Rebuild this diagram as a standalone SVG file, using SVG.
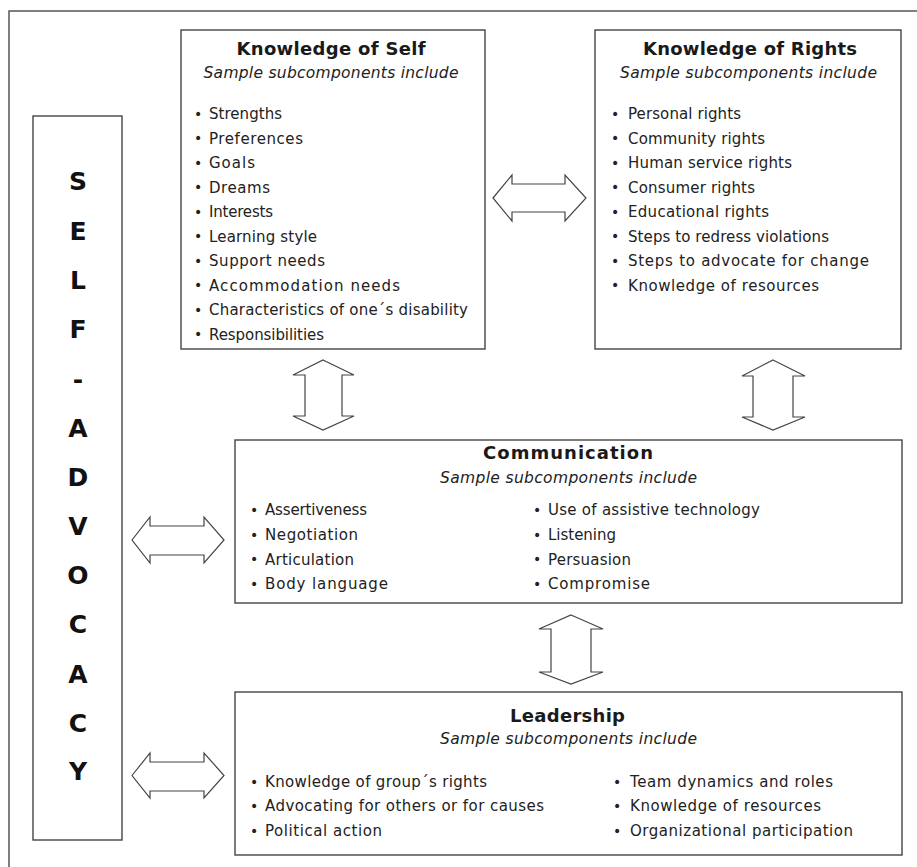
<svg xmlns="http://www.w3.org/2000/svg" width="917" height="867" viewBox="0 0 917 867">
<style>
.frame{fill:none;stroke:#555;stroke-width:1.5}
.box{fill:#fff;stroke:#444;stroke-width:1.4}
.arr{fill:#fff;stroke:#444;stroke-width:1.2;stroke-linejoin:miter}
.t{font-family:"DejaVu Sans",sans-serif;font-weight:bold;font-size:18px;fill:#1a1a1a;text-anchor:middle}
.s{font-family:"DejaVu Sans",sans-serif;font-style:italic;font-size:15.5px;fill:#222;text-anchor:middle}
.i{font-family:"DejaVu Sans",sans-serif;font-size:15px;fill:#222}
.b{font-family:"DejaVu Sans",sans-serif;font-size:14px;fill:#222}
.L{font-family:"DejaVu Sans",sans-serif;font-weight:bold;font-size:25px;fill:#111;text-anchor:middle}
</style>
<rect x="0" y="0" width="917" height="867" fill="#fff"/>
<rect class="frame" x="9" y="11" width="930" height="880"/>

<g id="self-advocacy">
<rect class="box" x="33" y="116" width="89" height="724"/>
<text class="L" x="78" y="190">S</text>
<text class="L" x="78" y="240">E</text>
<text class="L" x="78" y="289">L</text>
<text class="L" x="78" y="338">F</text>
<text class="L" x="78" y="388">-</text>
<text class="L" x="78" y="437">A</text>
<text class="L" x="78" y="486">D</text>
<text class="L" x="78" y="535">V</text>
<text class="L" x="78" y="584">O</text>
<text class="L" x="78" y="633">C</text>
<text class="L" x="78" y="683">A</text>
<text class="L" x="78" y="732">C</text>
<text class="L" x="78" y="780">Y</text>
</g>

<g id="knowledge-of-self">
<rect class="box" x="181" y="30" width="304" height="319"/>
<text class="t" x="331" y="55" textLength="189">Knowledge of Self</text>
<text class="s" x="331" y="78" textLength="255">Sample subcomponents include</text>
<g class="b">
<text x="194" y="118.5">•</text><text x="194" y="143">•</text><text x="194" y="167.5">•</text><text x="194" y="192">•</text><text x="194" y="216.5">•</text><text x="194" y="241">•</text><text x="194" y="265.5">•</text><text x="194" y="290">•</text><text x="194" y="314.5">•</text><text x="194" y="339">•</text>
</g>
<text class="i" x="209" y="119" textLength="73">Strengths</text>
<text class="i" x="209" y="143.5" textLength="94">Preferences</text>
<text class="i" x="209" y="168" textLength="46">Goals</text>
<text class="i" x="209" y="192.5" textLength="61">Dreams</text>
<text class="i" x="209" y="217" textLength="64">Interests</text>
<text class="i" x="209" y="241.5" textLength="108">Learning style</text>
<text class="i" x="209" y="266" textLength="116">Support needs</text>
<text class="i" x="209" y="290.5" textLength="191">Accommodation needs</text>
<text class="i" x="209" y="315" textLength="259">Characteristics of one´s disability</text>
<text class="i" x="209" y="339.5" textLength="115">Responsibilities</text>
</g>

<g id="knowledge-of-rights">
<rect class="box" x="595" y="30" width="306" height="319"/>
<text class="t" x="750" y="55" textLength="214">Knowledge of Rights</text>
<text class="s" x="748.5" y="78" textLength="257">Sample subcomponents include</text>
<g class="b">
<text x="611" y="118.5">•</text><text x="611" y="143">•</text><text x="611" y="167.5">•</text><text x="611" y="192">•</text><text x="611" y="216.5">•</text><text x="611" y="241">•</text><text x="611" y="265.5">•</text><text x="611" y="290">•</text>
</g>
<text class="i" x="628" y="119" textLength="113">Personal rights</text>
<text class="i" x="628" y="143.5" textLength="137">Community rights</text>
<text class="i" x="628" y="168" textLength="164">Human service rights</text>
<text class="i" x="628" y="192.5" textLength="127">Consumer rights</text>
<text class="i" x="628" y="217" textLength="141">Educational rights</text>
<text class="i" x="628" y="241.5" textLength="201">Steps to redress violations</text>
<text class="i" x="628" y="266" textLength="241">Steps to advocate for change</text>
<text class="i" x="628" y="290.5" textLength="191">Knowledge of resources</text>
</g>

<g id="communication">
<rect class="box" x="235" y="440" width="667" height="163"/>
<text class="t" x="568" y="459" textLength="170">Communication</text>
<text class="s" x="568.5" y="483" textLength="257">Sample subcomponents include</text>
<g class="b">
<text x="250" y="514.5">•</text><text x="250" y="539.5">•</text><text x="250" y="564">•</text><text x="250" y="588.5">•</text>
<text x="533" y="514.5">•</text><text x="533" y="539.5">•</text><text x="533" y="564">•</text><text x="533" y="588.5">•</text>
</g>
<text class="i" x="265" y="515" textLength="102">Assertiveness</text>
<text class="i" x="265" y="540" textLength="93">Negotiation</text>
<text class="i" x="265" y="564.5" textLength="89">Articulation</text>
<text class="i" x="265" y="589" textLength="123">Body language</text>
<text class="i" x="548" y="515" textLength="212">Use of assistive technology</text>
<text class="i" x="548" y="540" textLength="68">Listening</text>
<text class="i" x="548" y="564.5" textLength="83">Persuasion</text>
<text class="i" x="548" y="589" textLength="102">Compromise</text>
</g>

<g id="leadership">
<rect class="box" x="235" y="692" width="667" height="163"/>
<text class="t" x="567.5" y="722" textLength="115">Leadership</text>
<text class="s" x="568.5" y="744" textLength="257">Sample subcomponents include</text>
<g class="b">
<text x="250" y="786.5">•</text><text x="250" y="810.5">•</text><text x="250" y="835.5">•</text>
<text x="613" y="786.5">•</text><text x="613" y="810.5">•</text><text x="613" y="835.5">•</text>
</g>
<text class="i" x="265" y="787" textLength="222">Knowledge of group´s rights</text>
<text class="i" x="265" y="811" textLength="279">Advocating for others or for causes</text>
<text class="i" x="265" y="836" textLength="117">Political action</text>
<text class="i" x="630" y="787" textLength="203">Team dynamics and roles</text>
<text class="i" x="630" y="811" textLength="191">Knowledge of resources</text>
<text class="i" x="630" y="836" textLength="223">Organizational participation</text>
</g>

<g id="connectors">
<polygon class="arr" points="493,198 512,175 512,184 565,184 565,175 586,198 565,221 565,212 512,212 512,221"/>
<polygon class="arr" points="323,360 354,375 342,375 342,416 354,416 323,430 293,416 305,416 305,375 293,375"/>
<polygon class="arr" points="773,360 805,376 793,376 793,417 805,417 773,430 742,417 753,417 753,376 742,376"/>
<polygon class="arr" points="571,615 603,629 591,629 591,672 603,672 571,684 539,672 551,672 551,629 539,629"/>
<polygon class="arr" points="132,540 150,517 150,526 204,526 204,517 224,540 204,563 204,555 150,555 150,563"/>
<polygon class="arr" points="132,775.5 150,753 150,762 204,762 204,753 224,775.5 204,798 204,791 150,791 150,798"/>
</g>
</svg>
